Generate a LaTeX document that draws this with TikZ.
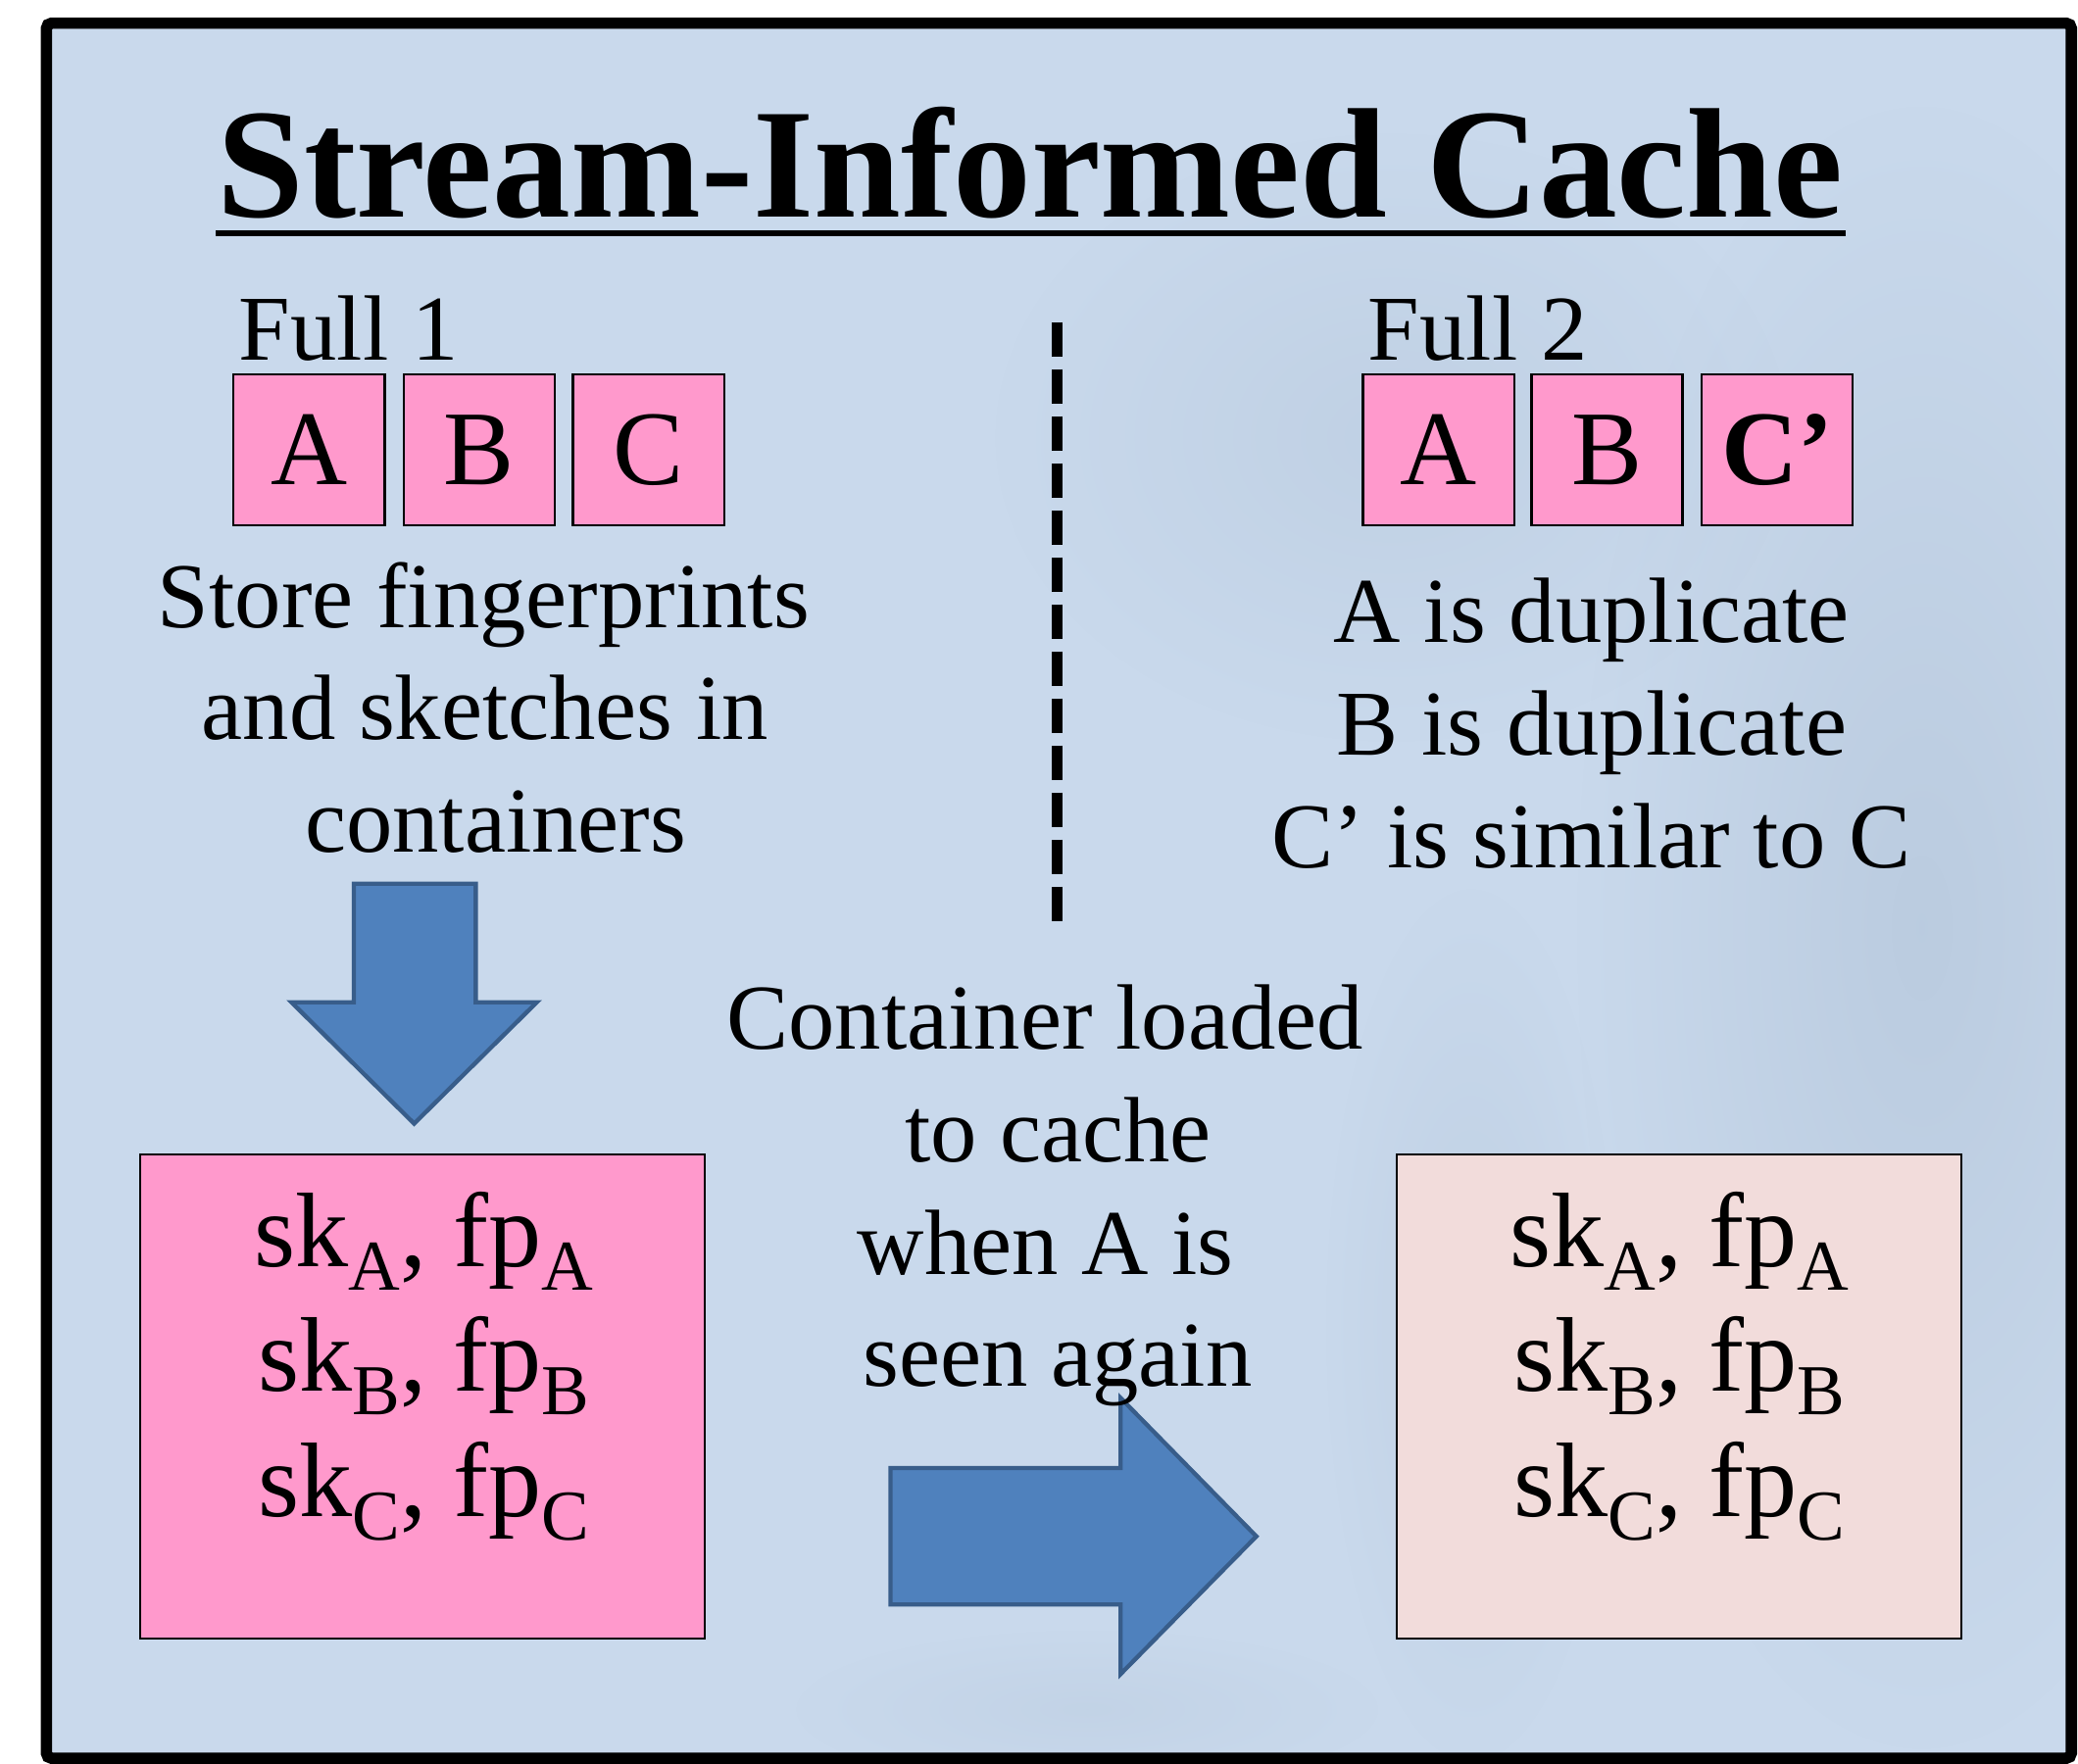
\documentclass[tikz,border=0pt]{standalone}
\usepackage{fontspec}
\setmainfont{Liberation Serif}
\usetikzlibrary{fadings}

\definecolor{panelblue}{HTML}{C9D9EC}
\definecolor{shadeblue}{HTML}{AFC1D6}
\definecolor{chunkpink}{HTML}{FF99CC}
\definecolor{cachepink}{HTML}{F2DCDB}
\definecolor{arrowfill}{HTML}{4F81BD}
\definecolor{arrowline}{HTML}{385D8A}

\tikzfading[name=softblob, inner color=transparent!0, outer color=transparent!100]

% subscript set a little smaller and lowered, as in the slide
\newcommand{\lowsub}[1]{\raisebox{-9pt}{\fontsize{27}{27}\selectfont #1}}

\begin{document}
\begin{tikzpicture}[x=0.5pt,y=-0.5pt,
  bodytext/.style={inner sep=0pt, anchor=base, font=\fontsize{35}{35}\selectfont},
  chunk/.style={draw=black, line width=0.8pt, fill=chunkpink,
    minimum width=57pt, minimum height=56.7pt, inner sep=0pt,
    text height=26.5pt, text depth=0pt, font=\fontsize{40}{40}\selectfont},
  cachebox/.style={draw=black, line width=0.8pt, minimum width=213pt,
    minimum height=182.7pt, inner sep=0pt},
  entry/.style={inner sep=0pt, anchor=base, font=\fontsize{40}{40}\selectfont},
  blockarrow/.style={fill=arrowfill, draw=arrowline, line width=1.6pt, line join=miter}
]
\useasboundingbox (0,0) rectangle (1568,1331);

% panel background
\fill[panelblue] (35,17.5) rectangle (1563,1327);

% faint texture in the background
\begin{scope}
  \clip (35,17.5) rectangle (1563,1327);
  \fill[shadeblue, opacity=0.55, path fading=softblob] (1450,700) ellipse [x radius=260, y radius=620];
  \fill[shadeblue, opacity=0.35, path fading=softblob] (1050,330) ellipse [x radius=300, y radius=230];
  \fill[shadeblue, opacity=0.35, path fading=softblob] (1110,1000) ellipse [x radius=110, y radius=330];
  \fill[shadeblue, opacity=0.25, path fading=softblob] (820,1290) ellipse [x radius=220, y radius=60];
\end{scope}

% outer frame
\draw[line width=4.3pt, rounded corners=2pt] (35,17.5) rectangle (1563,1327);

% title
\node[inner sep=0pt, anchor=base, font=\fontsize{59}{59}\selectfont\bfseries]
  (title) at (777.5,164) {Stream-Informed Cache};
\fill (163,173.5) rectangle (1392.5,178.5);

% first full backup
\node[bodytext, anchor=base west] (fullone) at (180,272) {Full 1};
\node[chunk] (a1) at (233.3,339.5) {A};
\node[chunk] (b1) at (361.6,339.5) {B};
\node[chunk] (c1) at (489.3,339.5) {C};

% second full backup
\node[bodytext, anchor=base west] (fulltwo) at (1032,272) {Full 2};
\node[chunk] (a2) at (1085.4,339.5) {A};
\node[chunk] (b2) at (1212.6,339.5) {B};
\node[chunk, font=\fontsize{40}{40}\selectfont\bfseries] (c2) at (1341,339.5) {C’};

% separator
\coordinate (septop) at (797.5,243);
\coordinate (sepbot) at (797.5,695);
\draw[line width=4.2pt, dash pattern=on 13.25pt off 4.5pt] (septop) -- (sepbot);

% left explanation
\node[bodytext] (store1) at (365,474) {Store fingerprints};
\node[bodytext] (store2) at (366,558) {and sketches in};
\node[bodytext] (store3) at (374,643) {containers};

% right explanation
\node[bodytext] (dup1) at (1201,485) {A is duplicate};
\node[bodytext] (dup2) at (1201,570) {B is duplicate};
\node[bodytext] (dup3) at (1200.5,655) {C’ is similar to C};

% block arrows
\draw[blockarrow] (267,667) -- (359,667) -- (359,756.5) -- (405,756.5)
  -- (312.5,848) -- (220,756.5) -- (267,756.5) -- cycle;
\draw[blockarrow] (672,1108) -- (845.5,1108) -- (845.5,1055) -- (948,1159.5)
  -- (845.5,1263.5) -- (845.5,1211) -- (672,1211) -- cycle;

% middle caption
\node[bodytext] (load1) at (788.5,792) {Container loaded};
\node[bodytext] (load2) at (798.5,877) {to cache};
\node[bodytext] (load3) at (789,962) {when A is};
\node[bodytext] (load4) at (798,1046) {seen again};

% container on disk
\node[cachebox, fill=chunkpink] (disk) at (318.5,1054) {};
\node[entry] (diskA) at (320,955.6) {sk\lowsub{A}, fp\lowsub{A}};
\node[entry] (diskB) at (320,1050) {sk\lowsub{B}, fp\lowsub{B}};
\node[entry] (diskC) at (320,1144.6) {sk\lowsub{C}, fp\lowsub{C}};

% container in cache
\node[cachebox, fill=cachepink] (cache) at (1267,1054) {};
\node[entry] (cacheA) at (1267,955.6) {sk\lowsub{A}, fp\lowsub{A}};
\node[entry] (cacheB) at (1267,1050) {sk\lowsub{B}, fp\lowsub{B}};
\node[entry] (cacheC) at (1267,1144.6) {sk\lowsub{C}, fp\lowsub{C}};
\end{tikzpicture}
\end{document}
